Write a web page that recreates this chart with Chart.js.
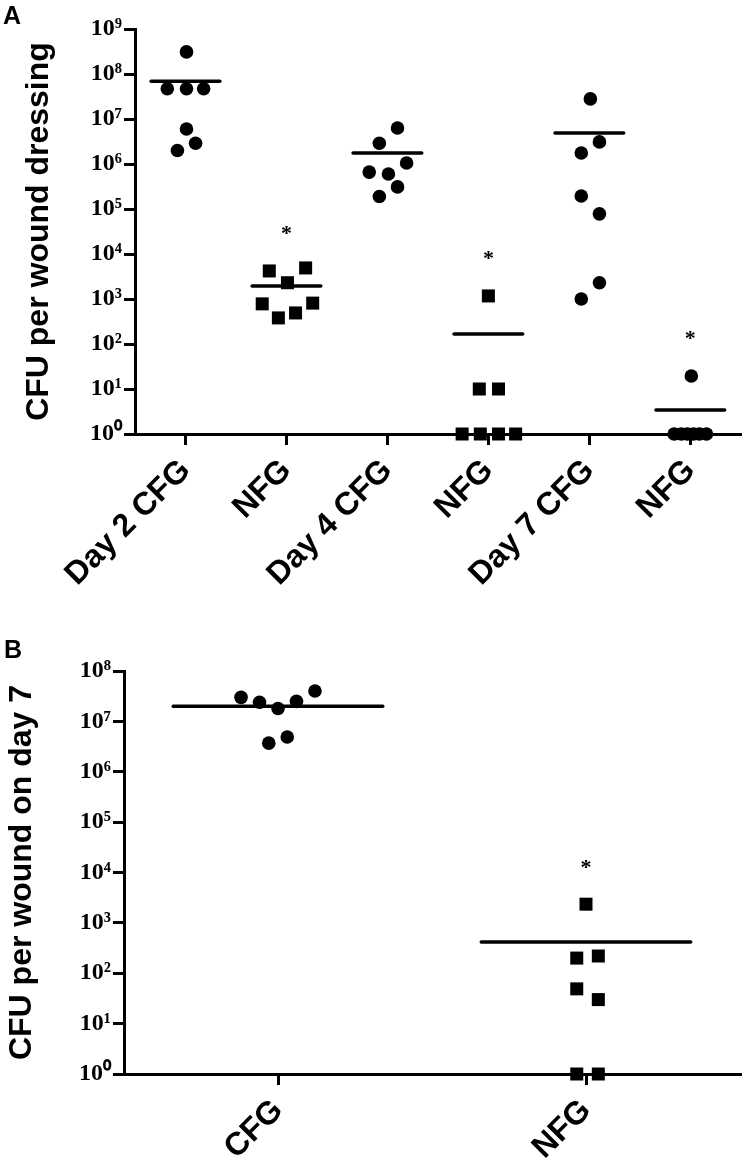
<!DOCTYPE html>
<html><head><meta charset="utf-8">
<script src="https://cdn.jsdelivr.net/npm/chart.js@4.4.1/dist/chart.umd.min.js"></script>
<style>
html,body{margin:0;padding:0;background:#fff;}
#wrap{position:relative;width:750px;height:1163px;overflow:hidden;}
.panel{position:absolute;font:bold 25px "Liberation Sans",Arial,sans-serif;color:#000;line-height:1;}
canvas{position:absolute;left:0;}
</style></head><body>
<div id="wrap">
<canvas id="cA" width="750" height="620" style="top:0"></canvas>
<canvas id="cB" width="750" height="543" style="top:620px"></canvas>
<div class="panel" style="left:3px;top:3px;">A</div>
<div class="panel" style="left:4px;top:637px;">B</div>
</div>
<script>
// ---------- Panel A data ----------
const catsA = ['Day 2 CFG', 'NFG', 'Day 4 CFG', 'NFG', 'Day 7 CFG', 'NFG'];
const shapesA = ['circle', 'rect', 'circle', 'rect', 'circle', 'circle'];
const day2CFG = [3.1e8, 4.7e7, 4.7e7, 4.7e7, 6e6, 2e6, 2.9e6];
const day2NFG = [4200, 4900, 2300, 780, 810, 380, 490];
const day4CFG = [6.3e6, 2.9e6, 1.05e6, 6.6e5, 6e5, 3.1e5, 1.9e5];
const day4NFG = [1170, 10, 10, 1, 1, 1, 1];
const day7CFG = [2.8e7, 3.1e6, 1.75e6, 1.95e5, 7.8e4, 2300, 1000];
const day7NFG = [19.5, 1, 1, 1, 1, 1, 1];
// horizontal scatter of each point within its column (category units)
const jitA = [
  [0.01, -0.18, 0.01, 0.18, 0.01, -0.08, 0.10],
  [-0.17, 0.19, 0.01, -0.24, 0.26, -0.08, 0.09],
  [0.10, -0.08, 0.19, -0.18, 0.01, 0.10, -0.08],
  [0.00, -0.09, 0.10, -0.26, -0.08, 0.10, 0.27],
  [0.01, 0.10, -0.08, -0.08, 0.10, 0.10, -0.08],
  [0.01, -0.16, -0.09, -0.03, 0.03, 0.09, 0.16]
];
const meansA = [6.9e7, 1950, 1.75e6, 166, 4.9e6, 3.4];
const starsA = [null, 31600, null, 9100, null, 145];
const yTicksA = [1, 10, 100, 1e3, 1e4, 1e5, 1e6, 1e7, 1e8, 1e9];
const yLabelsA = ['10⁰', '10¹', '10²', '10³', '10⁴', '10⁵', '10⁶', '10⁷', '10⁸', '10⁹'];

// ---------- Panel B data ----------
const catsB = ['CFG', 'NFG'];
const shapesB = ['circle', 'rect'];
const day7WoundCFG = [3.0e7, 2.4e7, 1.8e7, 2.5e7, 4.0e7, 3.7e6, 4.9e6];
const day7WoundNFG = [2350, 200, 220, 49, 30, 1, 1];
const jitB = [
  [-0.12, -0.06, 0.0, 0.06, 0.12, -0.03, 0.03],
  [0.0, -0.03, 0.04, -0.03, 0.04, -0.03, 0.04]
];
const meansB = [2.0e7, 415];
const starsB = [null, 14100];
const yTicksB = [1, 10, 100, 1e3, 1e4, 1e5, 1e6, 1e7, 1e8];
const yLabelsB = ['10⁰', '10¹', '10²', '10³', '10⁴', '10⁵', '10⁶', '10⁷', '10⁸'];

const SANS = '"Liberation Sans", Arial, sans-serif';
const SERIF = '"Liberation Serif", "Times New Roman", serif';

const starPlugin = {
  id: 'stars',
  afterDatasetsDraw(chart, args, opts) {
    const ctx = chart.ctx, x = chart.scales.x, y = chart.scales.y;
    ctx.save();
    ctx.font = 'bold 22px ' + SERIF;
    ctx.fillStyle = '#000';
    ctx.textAlign = 'center';
    ctx.textBaseline = 'middle';
    (opts.values || []).forEach((v, i) => {
      if (v == null) return;
      ctx.fillText('*', x.getPixelForValue(i), y.getPixelForValue(v) + 3);
    });
    ctx.restore();
  }
};

function build(id, cats, shapes, groups, jit, means, stars, yTicks, yLabels, yTitle, geo) {
  const datasets = [];
  groups.forEach((g, i) => {
    datasets.push({
      data: g.map((v, j) => ({ x: i + jit[i][j], y: v })),
      pointStyle: shapes[i],
      pointRadius: shapes[i] === 'rect' ? 9.2 : 6.8,
      pointHoverRadius: shapes[i] === 'rect' ? 9.2 : 6.8,
      backgroundColor: '#000', borderColor: '#000', borderWidth: 0,
      showLine: false, clip: false
    });
  });
  means.forEach((m, i) => {
    datasets.push({
      data: [{ x: i - 0.34, y: m }, { x: i + 0.34, y: m }],
      showLine: true, borderColor: '#000', borderWidth: 3.5, borderCapStyle: 'round',
      pointRadius: 0, pointHoverRadius: 0, clip: false
    });
  });
  return new Chart(document.getElementById(id), {
    type: 'scatter',
    data: { datasets },
    plugins: [starPlugin],
    options: {
      responsive: false, animation: false,
      layout: { padding: geo.pad },
      plugins: { legend: { display: false }, tooltip: { enabled: false }, stars: { values: stars } },
      scales: {
        x: {
          type: 'linear', min: -0.5, max: cats.length - 0.5,
          afterBuildTicks: s => { s.ticks = cats.map((c, i) => ({ value: i })); },
          afterFit: s => { s.height = geo.xh; },
          ticks: {
            callback: (v, idx) => cats[idx], autoSkip: false, maxRotation: 45, minRotation: 45,
            color: '#000', padding: geo.xpad, font: { family: SANS, weight: 'bold', size: 32 }
          },
          grid: { drawOnChartArea: false, drawTicks: true, tickLength: 11, lineWidth: 3, color: '#000' },
          border: { display: true, width: 3, color: '#000' }
        },
        y: {
          type: 'logarithmic', min: yTicks[0], max: yTicks[yTicks.length - 1],
          afterBuildTicks: s => { s.ticks = yTicks.map(v => ({ value: v })); },
          afterFit: s => { s.width = geo.yw; },
          ticks: {
            callback: (v, idx) => yLabels[idx], autoSkip: false,
            color: '#000', padding: 2, font: { family: SERIF, weight: 'bold', size: 24 }
          },
          grid: { drawOnChartArea: false, drawTicks: true, tickLength: 11, lineWidth: 3, color: '#000' },
          border: { display: true, width: 3, color: '#000' },
          title: {
            display: true, text: yTitle, color: '#000', padding: { top: 0, bottom: 0 },
            font: { family: SANS, weight: 'bold', size: 32, lineHeight: 1.2 }
          }
        }
      }
    }
  });
}

build('cA', catsA, shapesA, [day2CFG, day2NFG, day4CFG, day4NFG, day7CFG, day7NFG], jitA, meansA, starsA,
  yTicksA, yLabelsA, 'CFU per wound dressing',
  { pad: { left: 20, top: 29, right: 5, bottom: 0 }, yw: 115, xh: 186, xpad: 7 });
build('cB', catsB, shapesB, [day7WoundCFG, day7WoundNFG], jitB, meansB, starsB,
  yTicksB, yLabelsB, 'CFU per wound on day 7',
  { pad: { left: 3, top: 51, right: 10, bottom: 0 }, yw: 121, xh: 89, xpad: 7 });
</script>
</body></html>
